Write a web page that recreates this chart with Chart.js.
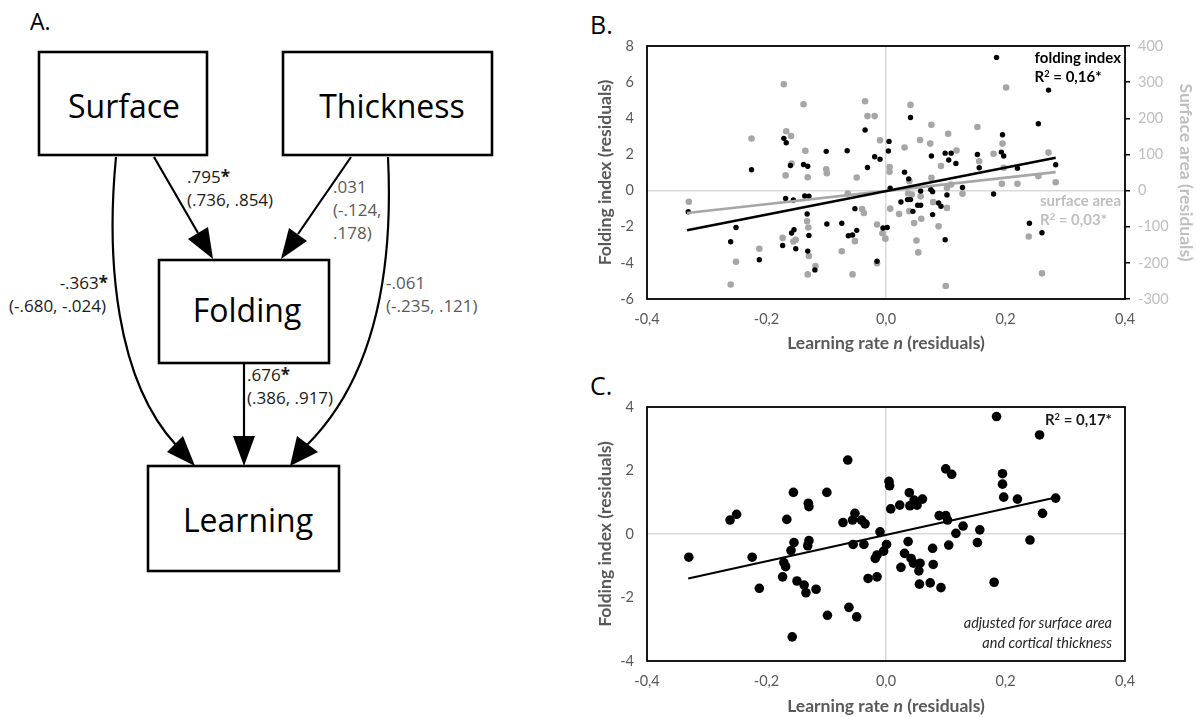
<!DOCTYPE html>
<html>
<head>
<meta charset="utf-8">
<script src="https://cdn.jsdelivr.net/npm/chart.js@4.4.1/dist/chart.umd.min.js"></script>
<style>
  html, body { margin:0; padding:0; background:#fff; }
  body { width:1196px; height:717px; position:relative; overflow:hidden; font-family:'Open Sans', sans-serif; }
  .abs { position:absolute; }
  .plabel { font-family:'Open Sans', sans-serif; font-size:25px; color:#000; line-height:1; }
  .xtitle { font-family:Lato, sans-serif; font-weight:bold; font-size:17.5px; color:#595959; text-align:center; width:478px; left:647px; line-height:20px; }
  .ann { font-family:Lato, sans-serif; font-weight:bold; font-size:15px; line-height:19px; text-align:left; white-space:nowrap; }
  sup { font-size:0.62em; vertical-align:0.5em; line-height:0; }
</style>
</head>
<body>

<!-- Panel A: path diagram -->
<svg class="abs" style="left:0;top:0" width="560" height="717" xmlns="http://www.w3.org/2000/svg">
  <text x="30" y="30" font-family="Open Sans" font-size="23" fill="#000">A.</text>
  <g fill="#fff" stroke="#000" stroke-width="2.6">
    <rect x="39" y="52" width="168" height="103"/>
    <rect x="283" y="52" width="209" height="103"/>
    <rect x="159" y="260" width="170" height="103"/>
    <rect x="148" y="466" width="191" height="105"/>
  </g>
  <g font-family="Open Sans" font-size="32" fill="#000" text-anchor="middle">
    <text x="124" y="118">Surface</text>
    <text x="392" y="118">Thickness</text>
    <text x="247" y="322">Folding</text>
    <text x="248" y="532">Learning</text>
  </g>
  <g fill="none" stroke="#000" stroke-width="2.2">
    <line x1="154" y1="157" x2="198" y2="233"/>
    <line x1="351" y1="157" x2="298" y2="234"/>
    <line x1="244" y1="363" x2="244" y2="438"/>
    <path d="M116,157 C106,260 116,380 176,445"/>
    <path d="M388,157 C394,280 372,380 307,445"/>
  </g>
  <g fill="#000" stroke="none">
    <polygon points="213,259 188,239 208,227"/>
    <polygon points="281,259 289,228 307,241"/>
    <polygon points="244,466 233,436 255,436"/>
    <polygon points="195,466 167,452 183,436"/>
    <polygon points="290,466 297,436 318,452"/>
  </g>
  <g font-family="Open Sans" font-size="17" fill="#1a1a1a">
    <text x="187" y="183">.795<tspan font-weight="bold">*</tspan></text>
    <text x="187" y="206">(.736, .854)</text>
    <text x="108" y="289" text-anchor="end">-.363<tspan font-weight="bold">*</tspan></text>
    <text x="9" y="312">(-.680, -.024)</text>
    <text x="247" y="381">.676<tspan font-weight="bold">*</tspan></text>
    <text x="247" y="404">(.386, .917)</text>
  </g>
  <g font-family="Open Sans" font-size="17" fill="#5a5a5a">
    <text x="333" y="193">.031</text>
    <text x="333" y="216">(-.124,</text>
    <text x="333" y="239">.178)</text>
    <text x="386" y="289">-.061</text>
    <text x="386" y="312">(-.235, .121)</text>
  </g>
</svg>

<!-- Panel B -->
<div class="abs plabel" style="left:590px;top:12px;">B.</div>
<div class="abs" style="left:560px;top:0;width:636px;height:360px;">
  <canvas id="chartB" width="636" height="360"></canvas>
</div>
<div class="abs xtitle" style="top:333px;">Learning rate <i>n</i> (residuals)</div>
<div class="abs ann" style="right:75px;top:48px;color:#000;">folding index<br>R<sup>2</sup> = 0,16*</div>
<div class="abs ann" style="right:75px;top:191px;color:#bfbfbf;">surface area<br>R<sup>2</sup> = 0,03*</div>

<!-- Panel C -->
<div class="abs plabel" style="left:590px;top:373px;">C.</div>
<div class="abs" style="left:560px;top:365px;width:636px;height:352px;">
  <canvas id="chartC" width="636" height="352"></canvas>
</div>
<div class="abs xtitle" style="top:696px;">Learning rate <i>n</i> (residuals)</div>
<div class="abs ann" style="right:84px;top:410px;color:#1a1a1a;">R<sup>2</sup> = 0,17*</div>
<div class="abs" style="right:84px;top:613px;font-family:Lato, sans-serif;font-style:italic;font-size:14.5px;line-height:20px;color:#262626;text-align:right;white-space:nowrap;">adjusted for surface area<br>and cortical thickness</div>

<script>
// ---------- DATA ----------
const xTickLabels = ['-0,4', '-0,2', '0,0', '0,2', '0,4'];
const yTickLabelsB = ['-6', '-4', '-2', '0', '2', '4', '6', '8'];
const y2TickLabelsB = ['-300', '-200', '-100', '0', '100', '200', '300', '400'];
const yTickLabelsC = ['-4', '-2', '0', '2', '4'];

// Panel B: folding index residuals (left axis)
const bFoldX = [-0.331,-0.251,-0.260,-0.225,-0.212,-0.171,-0.167,-0.160,-0.168,-0.155,-0.154,-0.158,-0.173,-0.151,-0.138,-0.131,-0.136,-0.129,-0.132,-0.129,-0.131,-0.119,-0.100,-0.099,-0.074,-0.065,-0.063,-0.056,-0.049,-0.052,-0.035,-0.031,-0.019,-0.010,-0.015,-0.005,
  0.185,0.272,0.255,0.041,0.005,0.004,0.195,0.193,0.197,0.099,0.109,0.105,0.117,0.076,0.153,0.156,0.220,0.284,0.031,0.038,0.007,0.058,0.075,0.078,0.128,0.102,0.180,0.025,0.036,0.041,0.045,0.053,0.058,0.088,0.092,0.078,0.002,0.099,0.240,0.261];
const bFoldY = [-1.17,-2.04,-2.83,1.15,-3.83,2.89,2.65,1.39,-0.44,-0.52,-2.17,-2.35,-3.04,-3.22,1.44,1.35,-0.30,-0.31,-1.30,-2.48,-3.35,-4.39,2.17,-1.85,-1.81,2.20,-2.50,-2.46,-2.20,-1.00,3.35,1.28,1.87,1.74,-3.91,-2.07,
  7.37,5.56,3.70,4.04,2.72,2.19,3.09,2.13,1.91,2.07,2.07,1.69,1.50,1.91,2.00,1.26,1.24,1.43,1.02,0.65,0.13,-0.02,0.06,-0.06,0.17,-0.24,-0.19,-0.63,-0.50,-0.50,-1.15,-0.81,-0.81,-0.69,-0.87,-1.33,-2.04,-2.72,-1.81,-2.33];

// Panel B: surface area residuals (right axis)
const bSurfX = [-0.330,-0.260,-0.251,-0.225,-0.212,-0.171,-0.167,-0.159,-0.158,-0.168,-0.173,-0.155,-0.151,-0.138,-0.135,-0.131,-0.132,-0.130,-0.129,-0.131,-0.118,-0.100,-0.099,-0.074,-0.064,-0.056,-0.052,-0.049,-0.040,-0.037,-0.035,-0.031,-0.019,-0.010,-0.015,-0.015,-0.006,-0.001,
  0.041,0.201,0.076,0.104,0.153,0.057,0.031,0.074,0.118,0.195,0.180,0.272,0.156,0.092,0.006,0.006,0.039,0.076,0.102,0.109,0.128,0.197,0.194,0.220,0.255,0.284,0.037,0.043,0.058,0.079,0.102,0.007,0.022,0.039,0.059,0.047,0.088,0.051,0.054,0.239,0.261,0.100];
const bSurfY = [-31,-260,-197,144,-161,294,164,151,75,42,-131,-141,-136,239,110,37,-85,-102,-181,-232,-209,59,48,-168,-8,-232,-140,36,-51,-62,247,206,206,139,-94,-201,-118,-133,
  237,285,182,157,176,140,119,130,111,130,102,105,81,68,65,52,26,35,7,17,-9,63,19,19,40,23,-8,-11,-16,-32,-48,-50,-65,-57,-78,-90,-99,-138,-171,-127,-229,-264];

// Panel B trend lines (end points)
const bFoldTrendX = [-0.333, 0.284];
const bFoldTrendY = [-2.20, 1.82];
const bSurfTrendX = [-0.333, 0.284];
const bSurfTrendY = [-62, 51];

// Panel C: folding index adjusted for surface area and thickness
const cX = [-0.330,-0.261,-0.250,-0.224,-0.212,-0.155,-0.166,-0.130,-0.129,-0.099,-0.064,-0.154,-0.159,-0.129,-0.131,-0.171,-0.168,-0.173,-0.149,-0.137,-0.134,-0.117,-0.157,-0.098,-0.062,-0.049,-0.072,-0.056,-0.052,-0.041,-0.035,-0.055,-0.037,-0.010,0.001,-0.004,-0.015,-0.018,-0.030,-0.015,0.005,0.006,0.008,
  0.185,0.257,0.100,0.110,0.195,0.195,0.197,0.220,0.284,0.262,0.023,0.039,0.040,0.047,0.052,0.061,0.089,0.100,0.103,0.129,0.157,0.117,0.037,0.031,0.042,0.046,0.057,0.055,0.025,0.078,0.079,0.056,0.074,0.092,0.105,0.153,0.241,0.181];
const cY = [-0.73,0.44,0.62,-0.73,-1.71,1.31,0.46,0.97,0.86,1.31,2.33,-0.27,-0.52,-0.21,-0.37,-0.90,-1.03,-1.35,-1.48,-1.61,-1.85,-1.74,-3.24,-2.56,-2.31,-2.61,0.36,0.44,0.65,0.44,0.32,-0.33,-0.33,0.07,-0.33,-0.54,-0.66,-0.77,-1.40,-1.35,1.66,1.52,0.79,
  3.70,3.12,2.05,1.88,1.90,1.57,1.16,1.10,1.13,0.65,0.91,1.30,0.89,1.07,0.91,1.10,0.58,0.58,0.44,0.25,0.13,0.02,-0.24,-0.61,-0.77,-0.92,-0.92,-1.16,-1.05,-0.45,-0.96,-1.58,-1.54,-1.69,-0.35,-0.27,-0.19,-1.52];
const cTrendX = [-0.331, 0.284];
const cTrendY = [-1.40, 1.15];

// ---------- HELPERS ----------
const toPts = (xs, ys) => xs.map((x, i) => ({ x: x, y: ys[i] }));
const zeroGrid = c => (c.tick && Math.abs(c.tick.value) < 1e-9) ? '#d9d9d9' : 'rgba(0,0,0,0)';
const tickFont = { family: 'Lato', size: 14.5 };
const titleFont = { family: 'Lato', size: 17.5, weight: 'bold' };

const framePlugin = {
  id: 'frame',
  afterDatasetsDraw(chart) {
    const { ctx, chartArea: a } = chart;
    ctx.save();
    ctx.strokeStyle = '#000';
    ctx.lineWidth = 1.8;
    ctx.strokeRect(a.left, a.top, a.right - a.left, a.bottom - a.top);
    ctx.restore();
  }
};

const xScale = (h) => ({
  type: 'linear', min: -0.4, max: 0.4,
  ticks: { stepSize: 0.2, color: '#595959', font: tickFont, padding: 12, maxRotation: 0,
           callback: (v, i) => xTickLabels[i] },
  grid: { color: zeroGrid, lineWidth: 1.5, drawTicks: false },
  border: { display: false },
  afterFit: s => { s.height = h; }
});

Chart.defaults.font.family = 'Lato';

// ---------- CHART B ----------
new Chart(document.getElementById('chartB'), {
  type: 'scatter',
  data: {
    datasets: [
      { data: toPts(bSurfX, bSurfY), yAxisID: 'y2', backgroundColor: '#a6a6a6', borderColor: '#a6a6a6', borderWidth: 0, pointRadius: 3.3, order: 4 },
      { data: toPts(bFoldX, bFoldY), yAxisID: 'y', backgroundColor: '#000', borderColor: '#000', borderWidth: 0, pointRadius: 2.7, order: 3 },
      { type: 'line', data: toPts(bSurfTrendX, bSurfTrendY), yAxisID: 'y2', borderColor: '#a6a6a6', borderWidth: 2.6, pointRadius: 0, fill: false, order: 2 },
      { type: 'line', data: toPts(bFoldTrendX, bFoldTrendY), yAxisID: 'y', borderColor: '#000', borderWidth: 2.6, pointRadius: 0, fill: false, order: 1 }
    ]
  },
  options: {
    responsive: false, animation: false, devicePixelRatio: 1,
    layout: { padding: { top: 46, left: 0, right: 0, bottom: 0 } },
    plugins: { legend: { display: false }, tooltip: { enabled: false } },
    scales: {
      x: xScale(61),
      y: {
        type: 'linear', position: 'left', min: -6, max: 8,
        ticks: { stepSize: 2, color: '#595959', font: tickFont, padding: 13,
                 callback: (v, i) => yTickLabelsB[i] },
        grid: { color: zeroGrid, lineWidth: 1.5, drawTicks: false },
        border: { display: false },
        title: { display: true, text: 'Folding index (residuals)', color: '#595959', font: titleFont, padding: { top: 35, bottom: 0 } },
        afterFit: s => { s.width = 87; }
      },
      y2: {
        type: 'linear', position: 'right', min: -300, max: 400,
        ticks: { stepSize: 100, color: '#bfbfbf', font: tickFont, padding: 8,
                 callback: (v, i) => y2TickLabelsB[i] },
        grid: { drawOnChartArea: false, drawTicks: true, tickLength: 5, color: '#000', lineWidth: 1.5 },
        border: { display: false },
        title: { display: true, text: 'Surface area (residuals)', color: '#bfbfbf', font: titleFont, padding: { top: 0, bottom: 0 } },
        afterFit: s => { s.width = 71; }
      }
    }
  },
  plugins: [framePlugin]
});

// ---------- CHART C ----------
new Chart(document.getElementById('chartC'), {
  type: 'scatter',
  data: {
    datasets: [
      { data: toPts(cX, cY), backgroundColor: '#000', borderColor: '#000', borderWidth: 0, pointRadius: 4.8, order: 2 },
      { type: 'line', data: toPts(cTrendX, cTrendY), borderColor: '#000', borderWidth: 2.2, pointRadius: 0, fill: false, order: 1 }
    ]
  },
  options: {
    responsive: false, animation: false, devicePixelRatio: 1,
    layout: { padding: { top: 42, left: 0, right: 71, bottom: 0 } },
    plugins: { legend: { display: false }, tooltip: { enabled: false } },
    scales: {
      x: xScale(56),
      y: {
        type: 'linear', position: 'left', min: -4, max: 4,
        ticks: { stepSize: 2, color: '#595959', font: tickFont, padding: 13,
                 callback: (v, i) => yTickLabelsC[i] },
        grid: { color: zeroGrid, lineWidth: 1.5, drawTicks: false },
        border: { display: false },
        title: { display: true, text: 'Folding index (residuals)', color: '#595959', font: titleFont, padding: { top: 35, bottom: 0 } },
        afterFit: s => { s.width = 87; }
      }
    }
  },
  plugins: [framePlugin]
});
</script>
</body>
</html>
